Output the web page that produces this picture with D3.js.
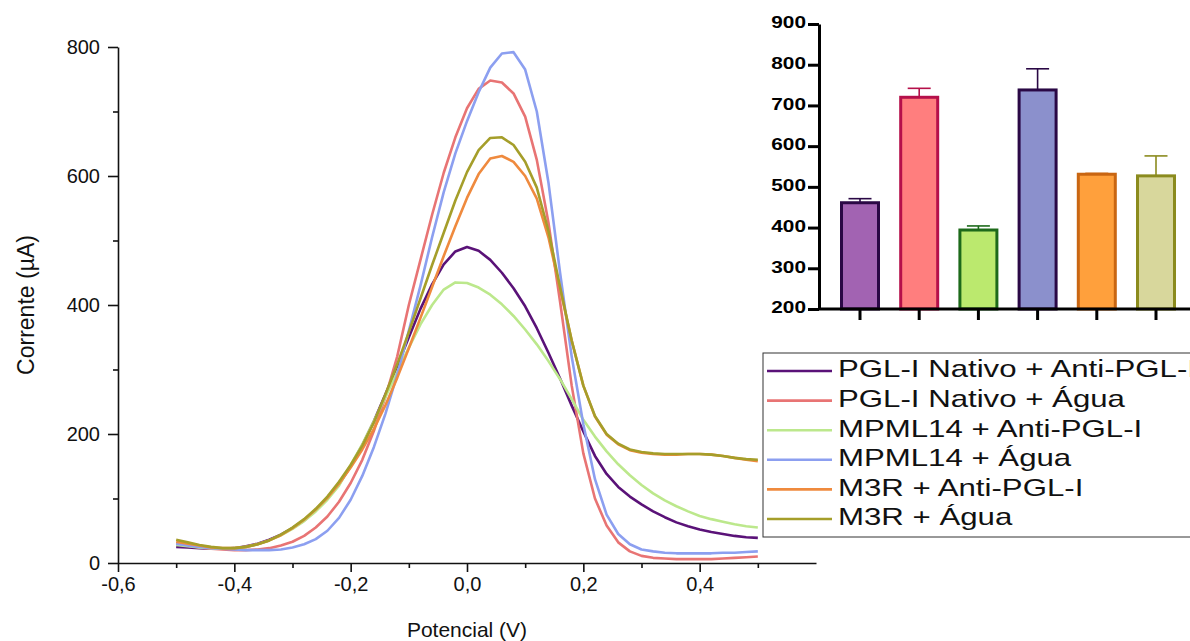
<!DOCTYPE html>
<html>
<head>
<meta charset="utf-8">
<script src="https://cdn.jsdelivr.net/npm/d3@7"></script>
<style>
  html, body { margin: 0; padding: 0; background: #fff; overflow: hidden; }
  svg { display: block; font-family: "Liberation Sans", Arial, sans-serif; }
</style>
</head>
<body>
<svg id="chart" width="1190" height="641"></svg>
<script>
// Potential sweep (V), one reading every 0.02 V
const potential = d3.range(51).map(i => +(-0.5 + i * 0.02).toFixed(2));

// Current (µA) for each sample
const pglAnti = [25,24,23,22,22,23,26,30,36,44,54,66,82,100,122,150,183,220,262,305,350,394,432,463,483,490,484,470,450,426,398,364,326,286,244,204,166,138,118,103,91,80,71,63,57,52,48,45,42,40,39];
const pglAgua = [30,27,24,22,21,20,20,21,23,27,33,42,55,72,95,124,160,205,258,320,400,470,540,605,660,705,735,748,745,728,692,625,528,405,275,170,100,58,32,18,11,8,7,6,6,6,6,7,8,9,10];
const mpmlAnti = [28,26,24,23,22,23,25,29,35,43,53,65,80,98,120,152,184,220,258,296,334,370,400,424,435,434,427,416,401,383,362,339,313,285,254,222,196,173,153,136,121,108,97,88,80,73,68,64,60,57,55];
const mpmlAgua = [30,27,25,23,22,21,20,20,20,21,24,29,37,50,70,98,135,180,232,292,360,430,505,575,635,685,730,768,790,792,765,700,590,450,320,215,130,75,45,29,21,18,16,15,15,15,15,16,16,17,18];
const m3rAnti = [33,30,27,24,23,23,25,29,35,43,54,67,83,101,123,148,176,208,245,287,333,380,428,476,522,566,603,627,631,622,600,565,505,425,345,275,227,199,184,175,171,169,168,168,169,169,168,166,163,160,158];
const m3rAgua = [36,32,28,25,23,23,25,29,35,44,55,68,84,103,126,152,182,218,262,308,358,410,462,512,562,606,640,659,660,648,622,582,515,428,345,275,228,200,185,176,172,170,169,169,169,169,168,166,163,161,160];

const seriesNames = ["PGL-I Nativo + Anti-PGL-I", "PGL-I Nativo + Água", "MPML14 + Anti-PGL-I", "MPML14 + Água", "M3R + Anti-PGL-I", "M3R + Água"];
const seriesValues = [pglAnti, pglAgua, mpmlAnti, mpmlAgua, m3rAnti, m3rAgua];
const seriesColors = ["#5a1278", "#e87474", "#bce88c", "#8c9ff0", "#ef8a3e", "#a59e2a"];

// Tick labels of the main plot
const xTicks = [-0.6, -0.4, -0.2, 0.0, 0.2, 0.4];
const xMinorTicks = [-0.5, -0.3, -0.1, 0.1, 0.3, 0.5];
const yTicks = [0, 200, 400, 600, 800];
const yMinorTicks = [100, 300, 500, 700];

// Peak current summary (bar inset)
const barGroups = ["PGL-I Nativo + Anti-PGL-I", "PGL-I Nativo + Água", "MPML14 + Anti-PGL-I", "MPML14 + Água", "M3R + Anti-PGL-I", "M3R + Água"];
const barMeans = [461, 720, 394, 738, 531, 527];
const barErrors = [10, 22, 10, 52, 2, 49];
const barFills = ["#a263b2", "#ff7e7e", "#bbe96e", "#8b90cc", "#ffa03c", "#d8d79c"];
const barStrokes = ["#2a0845", "#b5104a", "#1d6a1a", "#2a0845", "#c96612", "#8b8b1e"];
const barTicks = [200, 300, 400, 500, 600, 700, 800, 900];

const svg = d3.select("#chart");
const fmt = d => d3.format(".1f")(d).replace("\u2212", "-").replace(".", ",");

// ---------- main voltammogram ----------
const x = d3.scaleLinear().domain([-0.6, 0.6]).range([118, 816]);
const y = d3.scaleLinear().domain([0, 800]).range([563, 47]);

const main = svg.append("g");

main.append("g").attr("transform", `translate(0,${y(0)})`)
  .call(d3.axisBottom(x).tickValues(xTicks).tickFormat(fmt).tickSize(9).tickPadding(5).tickSizeOuter(0));
main.append("g").attr("transform", `translate(0,${y(0)})`)
  .call(d3.axisBottom(x).tickValues(xMinorTicks).tickFormat("").tickSize(5).tickSizeOuter(0))
  .select(".domain").remove();

main.append("g").attr("transform", `translate(${x(-0.6)},0)`)
  .call(d3.axisLeft(y).tickValues(yTicks).tickSize(10).tickPadding(8).tickSizeOuter(0));
main.append("g").attr("transform", `translate(${x(-0.6)},0)`)
  .call(d3.axisLeft(y).tickValues(yMinorTicks).tickFormat("").tickSize(5).tickSizeOuter(0))
  .select(".domain").remove();

main.selectAll(".domain, .tick line").attr("stroke", "#111").attr("stroke-width", 1.6);
main.selectAll(".tick text").attr("fill", "#111").style("font-size", "20px");

main.append("text")
  .attr("transform", `translate(28,${(y(0) + y(800)) / 2}) rotate(-90)`)
  .attr("text-anchor", "middle").attr("dominant-baseline", "middle")
  .style("font-size", "23px").attr("fill", "#111")
  .text("Corrente (µA)");

main.append("text")
  .attr("x", x(0)).attr("y", 637)
  .attr("text-anchor", "middle")
  .style("font-size", "21px").attr("fill", "#111")
  .text("Potencial (V)");

const line = d3.line().x((d, i) => x(potential[i])).y(d => y(d));
main.append("g").selectAll("path")
  .data(seriesValues)
  .join("path")
  .attr("d", line)
  .attr("fill", "none")
  .attr("stroke", (d, i) => seriesColors[i])
  .attr("stroke-width", 2.6)
  .attr("stroke-linejoin", "round");

// ---------- legend ----------
const legend = svg.append("g");
legend.append("rect")
  .attr("x", 763).attr("y", 353).attr("width", 440).attr("height", 184)
  .attr("fill", "#fff").attr("stroke", "#333").attr("stroke-width", 1);
const rowY = d3.scalePoint().domain(seriesNames).range([371, 519]);
const rows = legend.selectAll("g.row").data(seriesNames).join("g")
  .attr("transform", d => `translate(0,${rowY(d)})`);
rows.append("line").attr("x1", 767).attr("x2", 832)
  .attr("stroke", (d, i) => seriesColors[i]).attr("stroke-width", 2.6);
rows.append("text")
  .attr("transform", "translate(838,0) scale(1.3,1)")
  .attr("dominant-baseline", "middle")
  .style("font-size", "24px").attr("fill", "#111").text(d => d);

// ---------- bar inset ----------
const bx = d3.scaleBand().domain(barGroups).range([830.4, 1185.6]).paddingInner(0.375).paddingOuter(0.1875);
const by = d3.scaleLinear().domain([200, 900]).range([309, 24]);
const inset = svg.append("g");

inset.append("g").selectAll("rect").data(barMeans).join("rect")
  .attr("x", (d, i) => bx(barGroups[i]))
  .attr("width", bx.bandwidth())
  .attr("y", d => by(d))
  .attr("height", d => by(200) - by(d))
  .attr("fill", (d, i) => barFills[i])
  .attr("stroke", (d, i) => barStrokes[i])
  .attr("stroke-width", 3);

const err = inset.append("g").selectAll("g").data(barMeans).join("g");
err.append("line")
  .attr("x1", (d, i) => bx(barGroups[i]) + bx.bandwidth() / 2)
  .attr("x2", (d, i) => bx(barGroups[i]) + bx.bandwidth() / 2)
  .attr("y1", d => by(d)).attr("y2", (d, i) => by(d + barErrors[i]))
  .attr("stroke", (d, i) => barStrokes[i]).attr("stroke-width", 1.6);
err.append("line")
  .attr("x1", (d, i) => bx(barGroups[i]) + bx.bandwidth() / 2 - 11.5)
  .attr("x2", (d, i) => bx(barGroups[i]) + bx.bandwidth() / 2 + 11.5)
  .attr("y1", (d, i) => by(d + barErrors[i])).attr("y2", (d, i) => by(d + barErrors[i]))
  .attr("stroke", (d, i) => barStrokes[i]).attr("stroke-width", 1.6);

const axisX0 = 819;
inset.append("g").attr("transform", `translate(${axisX0},0)`)
  .call(d3.axisLeft(by).tickValues(barTicks).tickFormat("").tickSize(11).tickSizeOuter(0));
const ix = inset.append("g").attr("transform", `translate(0,${by(200)})`)
  .call(d3.axisBottom(bx).tickFormat("").tickSize(11).tickSizeOuter(0));
ix.select(".domain").attr("d", `M${axisX0},0H1195`);
inset.selectAll(".domain, .tick line").attr("stroke", "#000").attr("stroke-width", 3);

inset.append("g").selectAll("text").data(barTicks).join("text")
  .attr("transform", d => `translate(${axisX0 - 13},${by(d)}) scale(1.3,1)`)
  .attr("text-anchor", "end").attr("dominant-baseline", "middle")
  .style("font-size", "16px").style("font-weight", "bold").attr("fill", "#000")
  .text(d => d);
</script>
</body>
</html>
